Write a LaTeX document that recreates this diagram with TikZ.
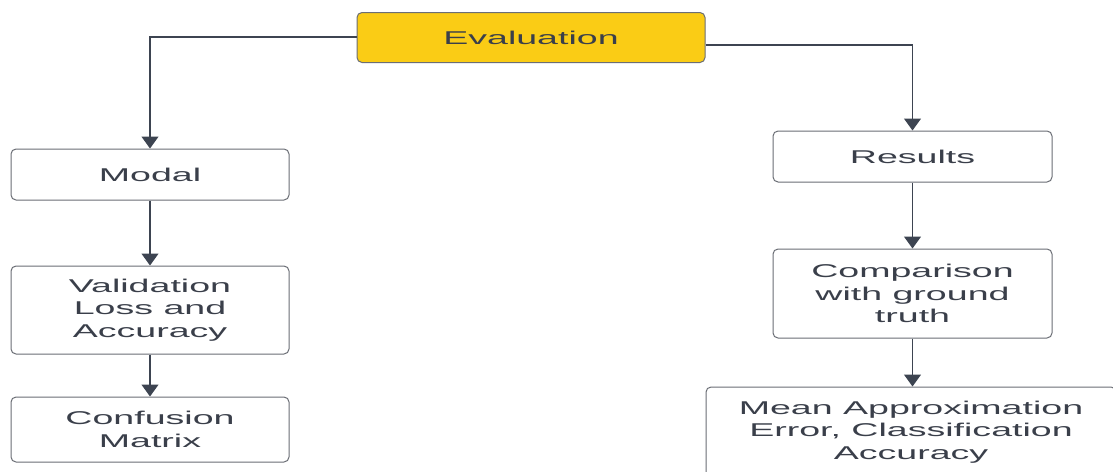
\documentclass[tikz,border=0pt]{standalone}
\usepackage{fontspec}
\newfontfamily\stf[FakeStretch=2.03]{Liberation Sans}
\usetikzlibrary{arrows.meta}
\definecolor{evyellow}{HTML}{FACC15}
\definecolor{boxline}{HTML}{6B6E75}
\definecolor{txt}{HTML}{3A3F4A}
\definecolor{arr}{HTML}{3D4451}
\tikzset{
  box/.style={draw=boxline, line width=1pt, rounded corners=5pt, fill=white,
    text=txt, align=center, inner sep=0pt,
    font=\stf\fontsize{18.5}{22.5}\selectfont},
  conn/.style={draw=arr, line width=1.2pt, -{Triangle[length=12pt,width=17pt]}}
}
\begin{document}
\begin{tikzpicture}[x=1pt,y=-1pt]
\useasboundingbox (0,0) rectangle (1113,471);
\clip (0,0) rectangle (1113,471);
\fill[white] (0,0) rectangle (1113,471);
\node[box, fill=evyellow, minimum width=348pt, minimum height=50pt] (eval) at (531,37.5) {Evaluation};
\node[box, minimum width=278pt, minimum height=51pt] (modal) at (150,174.5) {Modal};
\node[box, minimum width=278pt, minimum height=88pt] (valid) at (150,310) {Validation\\Loss and\\Accuracy};
\node[box, minimum width=278pt, minimum height=65pt] (conf) at (150,429.5) {Confusion\\Matrix};
\node[box, minimum width=279pt, minimum height=51pt] (res) at (912.5,156.5) {Results};
\node[box, minimum width=279pt, minimum height=89pt] (comp) at (912.5,293.5) {Comparison\\with ground\\truth};
\node[box, minimum width=410pt, minimum height=90pt] (mean) at (911,432) {Mean Approximation\\Error, Classification\\Accuracy};
\draw[conn] ([yshift=0.5pt]eval.west) -| (modal.north);
\draw[conn] ([yshift=-7.5pt]eval.east) -| (res.north);
\draw[conn] (modal.south) -- (valid.north);
\draw[conn] (valid.south) -- (conf.north);
\draw[conn] (res.south) -- (comp.north);
\draw[conn] (comp.south) -- (comp.south |- mean.north);
\end{tikzpicture}
\end{document}
